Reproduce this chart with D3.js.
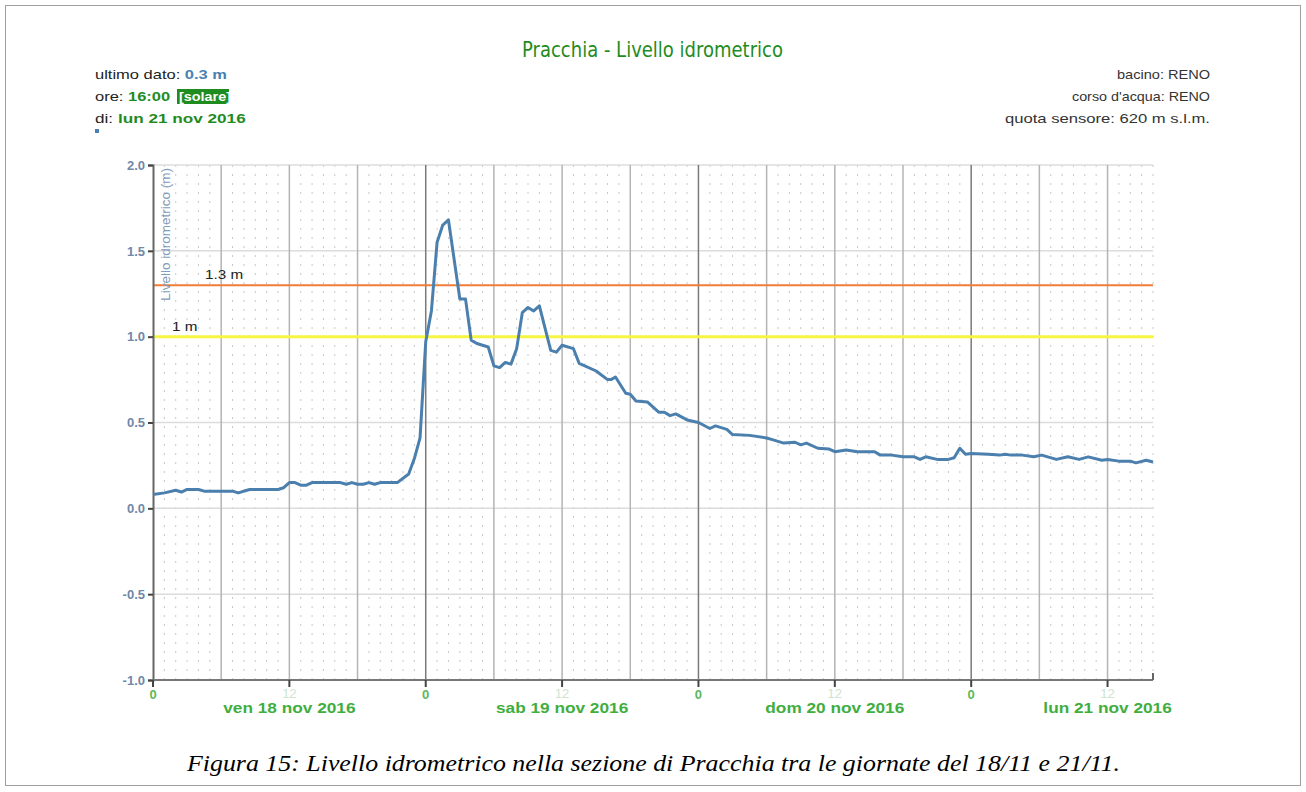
<!DOCTYPE html>
<html><head><meta charset="utf-8">
<script src="https://cdn.jsdelivr.net/npm/d3@7"></script>
<style>body{margin:0;background:#fff}svg{display:block}</style>
</head><body>
<script>
// hours since ven 18 nov 2016 00:00 (solar time)
const hours = [0,1,2,2.5,3,4,4.5,7,7.5,8.5,11,11.5,12,12.5,13,13.5,14,16.5,17,17.5,18,18.5,19,19.5,20,21.5,22.5,23,23.5,24,24.5,25,25.5,26,27,27.5,28,28.5,29,29.5,30,30.5,31,31.5,32,32.5,33,33.5,34,35,35.5,36,37,37.5,39,40,40.3,40.7,41.6,42,42.5,43.5,44.5,45,45.5,46,47,48,49,49.5,50.5,51,52.5,54,54.5,55.5,56.5,57,57.5,58.5,59.5,60,61,62,63.5,64,65,66,67,67.5,68,69,70,70.5,71,71.5,72,73.5,74.5,75,75.5,76.5,77.5,78.2,79.5,80.5,81.5,82.3,83.5,84,85,86,86.5,87.4,88];
const levels = [0.08,0.09,0.105,0.095,0.11,0.11,0.10,0.10,0.09,0.11,0.11,0.12,0.15,0.15,0.135,0.135,0.15,0.15,0.14,0.15,0.14,0.14,0.15,0.14,0.15,0.15,0.20,0.29,0.41,0.97,1.15,1.55,1.65,1.68,1.22,1.22,0.98,0.96,0.95,0.94,0.83,0.82,0.85,0.84,0.93,1.14,1.17,1.15,1.18,0.92,0.91,0.95,0.93,0.845,0.80,0.75,0.75,0.765,0.67,0.665,0.625,0.62,0.56,0.56,0.54,0.55,0.515,0.50,0.465,0.48,0.46,0.43,0.425,0.41,0.40,0.38,0.385,0.37,0.38,0.35,0.345,0.33,0.34,0.33,0.33,0.31,0.31,0.30,0.30,0.285,0.30,0.285,0.285,0.295,0.35,0.315,0.32,0.315,0.31,0.315,0.31,0.31,0.30,0.31,0.285,0.30,0.285,0.30,0.28,0.285,0.275,0.275,0.265,0.28,0.27];
const yTicks = [-1.0,-0.5,0.0,0.5,1.0,1.5,2.0];
const midnightHours = [0,24,48,72];
const noonHours = [12,36,60,84];
const dayLabels = ["ven 18 nov 2016","sab 19 nov 2016","dom 20 nov 2016","lun 21 nov 2016"];
const thresholds = [{v:1.3,label:"1.3 m",color:"#f07c3a",w:2,lx:205},{v:1.0,label:"1 m",color:"#f5f542",w:3,lx:172}];
const infoRight = ["bacino: RENO","corso d'acqua: RENO","quota sensore: 620 m s.l.m."];
const infoRightWidths = [93,138,205];

const W=1306,H=792;
const FONT="'Liberation Sans', Arial, sans-serif";
const svg=d3.select("body").append("svg").attr("width",W).attr("height",H).style("font-family",FONT);
svg.append("rect").attr("x",5.5).attr("y",5.5).attr("width",1295).attr("height",780).attr("fill","#fff").attr("stroke","#a0a0a0");

const x=d3.scaleLinear().domain([0,88]).range([153,1153]);
const y=d3.scaleLinear().domain([-1,2]).range([680,165]);

// horizontally stretched text helper
function stext(parent,px,py,sx){
  return parent.append("g").attr("transform",`translate(${px},${py}) scale(${sx},1)`).append("text");
}

// title
svg.append("text").attr("x",522).attr("y",57)
 .attr("font-family","'DejaVu Sans Condensed','DejaVu Sans',sans-serif").attr("font-stretch","condensed").attr("font-size",22)
 .attr("textLength",261).attr("lengthAdjust","spacingAndGlyphs")
 .attr("fill","#1f8c1f").text("Pracchia - Livello idrometrico");

// info left
const il=svg.append("g").attr("font-size",13);
let t=stext(il,95,79,1.27);
t.append("tspan").attr("fill","#222").text("ultimo dato: ");
t.append("tspan").attr("fill","#4a80b4").attr("font-weight","bold").text("0.3 m");
t=stext(il,95,101,1.27);
t.append("tspan").attr("fill","#222").text("ore: ");
t.append("tspan").attr("fill","#1f8c1f").attr("font-weight","bold").text("16:00");
il.append("rect").attr("x",177).attr("y",89).attr("width",52).attr("height",15).attr("fill","#1f8c1f");
stext(il,179,101,1.2).attr("fill","#fff").attr("font-weight","bold").attr("font-size",12).text("[solare]");
t=stext(il,95,123,1.32);
t.append("tspan").attr("fill","#222").text("di: ");
t.append("tspan").attr("fill","#1f8c1f").attr("font-weight","bold").text("lun 21 nov 2016");
il.append("rect").attr("x",95).attr("y",129).attr("width",4).attr("height",4).attr("fill","#4a80b4");

// info right
const ir=svg.append("g");
infoRight.forEach((s,i)=>{
  ir.append("text").attr("x",1210-infoRightWidths[i]).attr("y",79+i*22).attr("font-size",13).attr("fill","#333")
    .attr("textLength",infoRightWidths[i]).attr("lengthAdjust","spacingAndGlyphs").text(s);
});

// grid
const g=svg.append("g");
const hourly=d3.range(0,89);
g.selectAll(".hd").data(hourly.filter(h=>h%6!==0)).join("line")
 .attr("x1",d=>x(d)).attr("x2",d=>x(d)).attr("y1",165).attr("y2",680)
 .attr("stroke","#c8c8c8").attr("stroke-dasharray","2,7");
g.selectAll(".hy").data(yTicks.filter(v=>v>-1)).join("line")
 .attr("x1",153).attr("x2",1153).attr("y1",d=>y(d)).attr("y2",d=>y(d)).attr("stroke","#dcdcdc").attr("stroke-width",1.5);
g.selectAll(".v6").data(d3.range(6,89,6).filter(h=>h%24!==0)).join("line")
 .attr("x1",d=>x(d)).attr("x2",d=>x(d)).attr("y1",165).attr("y2",680).attr("stroke","#b4b4b4").attr("stroke-width",1.5);
g.selectAll(".v24").data(midnightHours.filter(h=>h>0)).join("line")
 .attr("x1",d=>x(d)).attr("x2",d=>x(d)).attr("y1",165).attr("y2",680).attr("stroke","#7a7a7a").attr("stroke-width",1.5);

// thresholds
thresholds.forEach(th=>{
 svg.append("line").attr("x1",153).attr("x2",1153).attr("y1",y(th.v)).attr("y2",y(th.v)).attr("stroke",th.color).attr("stroke-width",th.w);
 stext(svg,th.lx,y(th.v)-6,1.22).attr("font-size",12.5).attr("fill","#222").text(th.label);
});

// y axis
const ya=svg.append("g").attr("transform","translate(153,0)")
 .call(d3.axisLeft(y).tickValues(yTicks).tickFormat(d=>d3.format(".1f")(d).replace("\u2212","-")).tickSize(5).tickPadding(3));
ya.select(".domain").attr("stroke","#666").attr("stroke-width",2);
ya.selectAll(".tick line").attr("stroke","#444").attr("stroke-width",2);
ya.selectAll("text").attr("fill","#7088a8").attr("font-size",13).attr("font-weight","bold").attr("font-family",FONT);
svg.append("text").attr("transform","translate(170,168) rotate(-90)").attr("text-anchor","end")
 .attr("font-size",13.5).attr("fill","#7f9cbc").text("Livello idrometrico (m)");

// x axis
const xa=svg.append("g").attr("transform","translate(0,680)");
xa.append("line").attr("x1",153).attr("x2",1153).attr("stroke","#777").attr("stroke-width",2);
xa.selectAll(".tk").data(midnightHours.concat(noonHours)).join("line")
 .attr("x1",d=>x(d)).attr("x2",d=>x(d)).attr("y1",0).attr("y2",7).attr("stroke","#444").attr("stroke-width",2);
xa.append("line").attr("x1",x(88)).attr("x2",x(88)).attr("y1",-7).attr("y2",0).attr("stroke","#666").attr("stroke-width",2);
xa.selectAll(".l0").data(midnightHours).join("text").attr("x",d=>x(d)).attr("y",19).attr("text-anchor","middle")
 .attr("font-size",13).attr("font-weight","bold").attr("fill","#5bb85b").text("0");
xa.selectAll(".l12").data(noonHours).join("text").attr("x",d=>x(d)).attr("y",18).attr("text-anchor","middle")
 .attr("font-size",13).attr("fill","#cfe3cf").text("12");
noonHours.forEach((h,i)=>{
  stext(xa,x(h),33,1.15).attr("text-anchor","middle").attr("font-size",15).attr("font-weight","bold").attr("fill","#3fae3f").text(dayLabels[i]);
});

// series
const pts=hours.map((h,i)=>[h,levels[i]]);
svg.append("path").datum(pts).attr("fill","none").attr("stroke","#4a7fae").attr("stroke-width",3).attr("stroke-linejoin","round")
 .attr("d",d3.line().x(d=>x(d[0])).y(d=>y(d[1])));

// caption
svg.append("text").attr("x",187).attr("y",771).attr("font-family","'Liberation Serif','Times New Roman',Times,serif")
 .attr("font-style","italic").attr("font-size",23).attr("fill","#000")
 .attr("textLength",933).attr("lengthAdjust","spacingAndGlyphs")
 .text("Figura 15: Livello idrometrico nella sezione di Pracchia tra le giornate del 18/11 e 21/11.");
</script>
</body></html>
